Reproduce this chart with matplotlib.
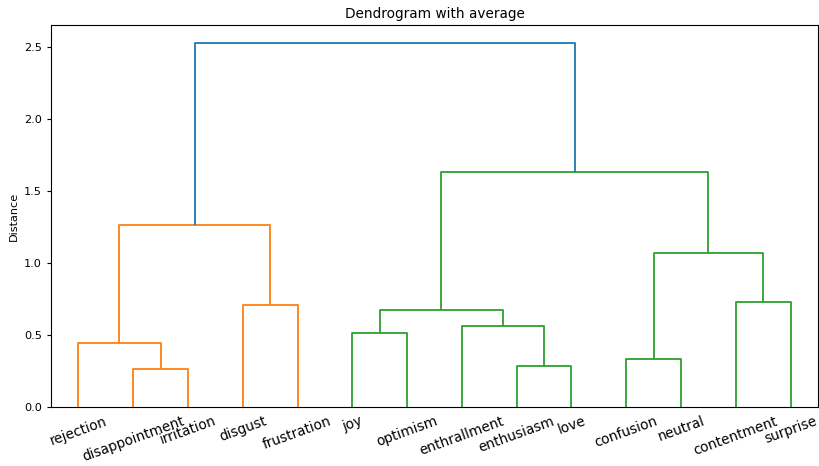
import matplotlib
matplotlib.use("Agg")
import matplotlib.pyplot as plt
from matplotlib.collections import LineCollection

# leaves in dendrogram order
labels = ["rejection", "disappointment", "irritation", "disgust", "frustration",
          "joy", "optimism", "enthrallment", "enthusiasm", "love",
          "confusion", "neutral", "contentment", "surprise"]

# average-linkage merges: cluster ids >= len(labels) refer to earlier merges
merge_left = [1, 8, 10, 0, 5, 7, 18, 3, 12, 16, 17, 20, 24]
merge_right = [2, 9, 11, 14, 6, 15, 19, 4, 13, 22, 21, 23, 25]
merge_height = [0.265, 0.285, 0.335, 0.445, 0.515, 0.565, 0.675,
                0.71, 0.73, 1.07, 1.265, 1.63, 2.528]

n = len(labels)
palette = ["C1", "C2", "C3", "C4", "C5"]
above_color = "C0"
threshold = 0.7 * max(merge_height)

# x position and height for every node
xpos = {i: 5 + 10 * i for i in range(n)}
hpos = {i: 0.0 for i in range(n)}
for k, (a, b, h) in enumerate(zip(merge_left, merge_right, merge_height)):
    xpos[n + k] = (xpos[a] + xpos[b]) / 2
    hpos[n + k] = h

# colour each link by the cluster it falls in below the threshold
node_color = {}
next_col = [0]


def paint(node, col):
    if node < n:
        return
    k = node - n
    h = merge_height[k]
    if col is None and h < threshold:
        col = palette[next_col[0] % len(palette)]
        next_col[0] += 1
    node_color[node] = col if col is not None else above_color
    paint(merge_left[k], col)
    paint(merge_right[k], col)


paint(n + len(merge_height) - 1, None)

segs, cols = [], []
for k, (a, b, h) in enumerate(zip(merge_left, merge_right, merge_height)):
    segs.append([(xpos[a], hpos[a]), (xpos[a], h), (xpos[b], h), (xpos[b], hpos[b])])
    cols.append(node_color[n + k])

fig = plt.figure(figsize=(8.19, 4.66), dpi=100)
ax = fig.add_axes([51 / 819, 59 / 466, 767 / 819, 382 / 466])
ax.add_collection(LineCollection(segs, colors=cols, linewidths=1.3))

ax.set_xlim(0, 10 * n)
ax.set_ylim(0, max(merge_height) * 1.05)
ax.set_xticks([xpos[i] for i in range(n)])
ax.set_xticklabels(labels, rotation=20, fontsize=9.8)
ax.tick_params(axis="x", length=0, pad=5)
ax.tick_params(axis="y", labelsize=8.15, length=3)
ax.set_yticks([0.0, 0.5, 1.0, 1.5, 2.0, 2.5])
ax.set_ylabel("Distance", fontsize=8.15)
ax.set_title("Dendrogram with average", fontsize=9.8, pad=5)

fig.savefig("out.png", dpi=100)
